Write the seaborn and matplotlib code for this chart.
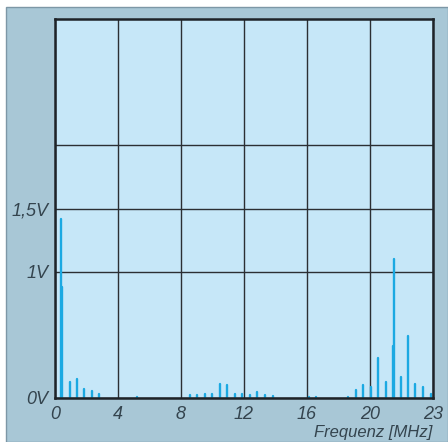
import matplotlib
matplotlib.use("Agg")
import matplotlib.pyplot as plt
import matplotlib.patches as mpatches
import seaborn as sns
import numpy as np
import pandas as pd

# spectrum lines: frequency in MHz, amplitude in V
freq_mhz = [0.36, 0.42, 0.93, 1.40, 1.84, 2.33, 2.79, 5.19,
            8.57, 9.04, 9.52, 9.99, 10.48, 10.92, 11.41, 11.90, 12.38, 12.85, 13.33, 13.82,
            16.13, 16.60, 18.62, 19.11, 19.58, 20.04,
            20.40, 20.75, 21.08, 21.12, 21.46, 21.81, 22.16, 22.51, 22.89]
volts = [1.42, 0.88, 0.13, 0.15, 0.07, 0.055, 0.03, 0.01,
         0.02, 0.02, 0.03, 0.03, 0.11, 0.10, 0.03, 0.03, 0.02, 0.05, 0.02, 0.015,
         0.01, 0.01, 0.01, 0.065, 0.10, 0.09,
         0.315, 0.13, 0.41, 1.10, 0.165, 0.49, 0.11, 0.087, 0.035]

x_ticks = [0, 4, 8, 12, 16, 20, 23]
x_labels = ["0", "4", "8", "12", "16", "20", "23"]
y_ticks = [0, 1, 1.5, 2]
y_labels = ["0V", "1V", "1,5V", ""]

# one row per line end, so seaborn draws each spike as its own unit
rows = []
for i, (f, v) in enumerate(zip(freq_mhz, volts)):
    rows.append({"f": f, "v": 0.0, "id": i})
    rows.append({"f": f, "v": v, "id": i})
df = pd.DataFrame(rows)


# the grid is even, but the last cell only spans 20..23 MHz
def fwd(x):
    x = np.asarray(x, dtype=float)
    return np.where(x <= 20, x / 4.0, 5 + (x - 20) / 3.0)


def inv(p):
    p = np.asarray(p, dtype=float)
    return np.where(p <= 5, p * 4.0, 20 + (p - 5) * 3.0)


sns.set_style("white")
plt.rcParams["font.family"] = ["Liberation Sans", "DejaVu Sans"]

fig = plt.figure(figsize=(4.48, 4.42), dpi=100)
fig.patch.set_facecolor("white")
panel = mpatches.Rectangle((6 / 448, 0), 1 - 6 / 448, (442 - 7) / 442,
                           transform=fig.transFigure, facecolor="#a8c7d6",
                           edgecolor="#7d97a6", linewidth=1.0, zorder=-5)
fig.patches.append(panel)

ax = fig.add_axes([55 / 448, 44 / 442, 378 / 448, 379 / 442])
ax.set_zorder(5)
ax.set_facecolor("#c6e7f8")
ax.set_xscale("function", functions=(fwd, inv))

sns.lineplot(data=df, x="f", y="v", units="id", estimator=None, sort=False,
             color="#1ba9e2", linewidth=1.7, ax=ax, legend=False)

ax.set_xlim(0, 23)
ax.set_ylim(0, 3)
ax.set_xticks(x_ticks)
ax.set_xticklabels(x_labels)
ax.set_yticks(y_ticks)
ax.set_yticklabels(y_labels)
ax.tick_params(axis="x", length=0, labelsize=13, colors="#34444e", pad=6)
ax.tick_params(axis="y", length=0, labelsize=13, colors="#34444e", pad=5)
for lab in ax.get_xticklabels() + ax.get_yticklabels():
    lab.set_fontstyle("italic")
ax.grid(True, color="#2b2f33", linewidth=1.0)
ax.set_axisbelow(True)
for s in ax.spines.values():
    s.set_visible(True)
    s.set_color("#1e2328")
    s.set_linewidth(1.8)

ax.set_xlabel("")
ax.set_ylabel("")
fig.text(432 / 448, 1 - 432 / 442, "Frequenz [MHz]", ha="right", va="center",
         fontsize=12, fontstyle="italic", color="#34444e")

fig.savefig("out.png", dpi=100)
